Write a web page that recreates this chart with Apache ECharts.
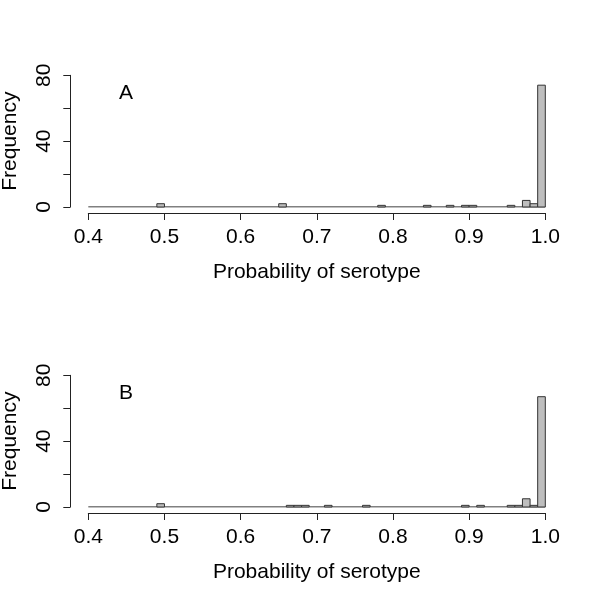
<!DOCTYPE html>
<html>
<head>
<meta charset="utf-8">
<script src="https://cdn.jsdelivr.net/npm/echarts@6/dist/echarts.min.js"></script>
<style>
  html, body { margin: 0; padding: 0; background: #ffffff; }
  #chart { width: 600px; height: 600px; }
</style>
</head>
<body>
<div id="chart"></div>
<script>
// histogram bins (left edge) with non-zero counts, bin width 0.01
var binWidth = 0.01
var xRange = [0.4, 1.0]
var panelLabels = ['A', 'B']

var binsA = [0.49, 0.65, 0.78, 0.84, 0.87, 0.89, 0.90, 0.95, 0.97, 0.98, 0.99]
var countsA = [2, 2, 1, 1, 1, 1, 1, 1, 4, 2, 74]

var binsB = [0.49, 0.66, 0.67, 0.68, 0.71, 0.76, 0.89, 0.91, 0.95, 0.96, 0.97, 0.98, 0.99]
var countsB = [2, 1, 1, 1, 1, 1, 1, 1, 1, 1, 5, 1, 67]

var fontFamily = '"Liberation Sans", Arial, sans-serif'
var axisColor = '#222222'

var chart = echarts.init(document.getElementById('chart'))

function pairs(bins, counts) {
  return bins.map(function(b, i) { return [b, counts[i]] })
}

function renderBar(params, api) {
  var x0 = api.value(0)
  var n = api.value(1)
  var p0 = api.coord([x0, n])
  var p1 = api.coord([x0 + binWidth, 0])
  return {
    type: 'rect',
    shape: { x: p0[0], y: p0[1], width: p1[0] - p0[0], height: p1[1] - p0[1] },
    style: { fill: '#bebebe', stroke: '#333333', lineWidth: 1 }
  }
}

var tops = [75.3, 375.3]
var grids = []
var xAxes = []
var yAxes = []
var series = []
var graphics = []
var panels = [pairs(binsA, countsA), pairs(binsB, countsB)]

panels.forEach(function(data, i) {
  grids.push({ left: 88.3, width: 457, top: tops[i], height: 131.7, containLabel: false, outerBoundsMode: 'none' })
  xAxes.push({
    type: 'value',
    gridIndex: i,
    min: xRange[0],
    max: xRange[1],
    interval: 0.1,
    offset: 6,
    name: 'Probability of serotype',
    nameLocation: 'middle',
    nameGap: 49,
    nameTextStyle: { fontSize: 21, color: '#000', fontFamily: fontFamily },
    axisLine: { show: true, onZero: false, lineStyle: { color: axisColor, width: 1 } },
    axisTick: { show: true, length: 7, lineStyle: { color: axisColor } },
    axisLabel: {
      margin: 14,
      fontSize: 21,
      color: '#000',
      fontFamily: fontFamily,
      formatter: function(v) { return v.toFixed(1) }
    },
    splitLine: { show: false }
  })
  yAxes.push({
    type: 'value',
    gridIndex: i,
    min: 0,
    max: 80,
    interval: 20,
    offset: 18,
    name: 'Frequency',
    nameLocation: 'middle',
    nameGap: 50,
    nameRotate: 90,
    nameTextStyle: { fontSize: 21, color: '#000', fontFamily: fontFamily },
    axisLine: { show: true, onZero: false, lineStyle: { color: axisColor, width: 1 } },
    axisTick: { show: true, length: 7, lineStyle: { color: axisColor } },
    axisLabel: {
      margin: 16,
      rotate: 90,
      fontSize: 21,
      color: '#000',
      fontFamily: fontFamily,
      formatter: function(v) { return v % 40 === 0 ? String(v) : '' }
    },
    splitLine: { show: false }
  })
  // zero line across all bins
  series.push({
    type: 'line',
    xAxisIndex: i,
    yAxisIndex: i,
    data: [[xRange[0], 0], [xRange[1], 0]],
    symbol: 'none',
    lineStyle: { color: '#000', width: 1 },
    silent: true,
    z: 1
  })
  series.push({
    type: 'custom',
    xAxisIndex: i,
    yAxisIndex: i,
    data: data,
    renderItem: renderBar,
    z: 2
  })
  graphics.push({
    type: 'text',
    left: 119,
    top: tops[i] + 7,
    style: { text: panelLabels[i], fontSize: 21, fill: '#000', fontFamily: fontFamily }
  })
})

chart.setOption({
  backgroundColor: '#ffffff',
  animation: false,
  grid: grids,
  xAxis: xAxes,
  yAxis: yAxes,
  series: series,
  graphic: graphics
})
</script>
</body>
</html>
